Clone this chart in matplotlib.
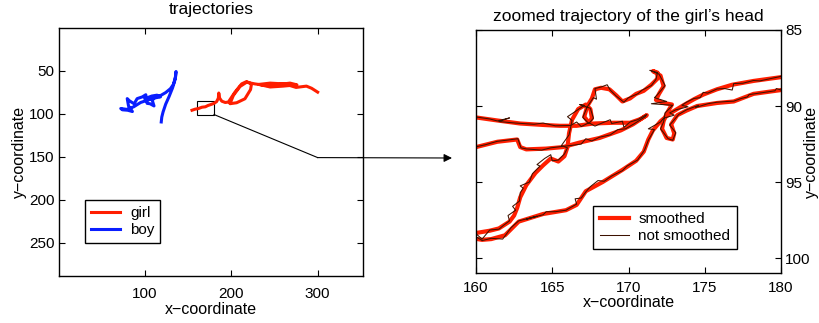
import numpy as np
import matplotlib
matplotlib.use("Agg")
import matplotlib.pyplot as plt
from matplotlib.patches import Rectangle

plt.rcParams["font.family"] = ["Liberation Sans", "DejaVu Sans"]
plt.rcParams["font.size"] = 11

# left panel: whole trajectories (image coordinates)
girl_x = [154.5, 158, 162, 166, 170, 173, 176, 180, 183, 185, 185.5, 186.5, 189, 193, 196.6,
          204.3, 212, 217.7, 223.4, 222.3, 215.8, 206.2, 198.5, 202.4, 210, 217.7, 227.2,
          240.7, 256, 268, 276, 260, 245, 232, 245, 262, 275, 287, 293, 300]
girl_y = [96.0, 94.8, 94.0, 92.5, 92.0, 90.5, 89.5, 88.0, 86.0, 82, 76, 82, 85.5, 87, 86.5,
          74.9, 65.4, 62.7, 65.4, 72, 82.7, 87.3, 88.4, 78.8, 68.5, 63.5, 65.4,
          67.3, 66, 64.5, 66.5, 68, 69, 66, 64.5, 65.5, 69.5, 68, 70.5, 75]
boy_x = [118.9, 119.5, 121, 124, 128, 132, 135, 136, 135.5, 133, 129.5, 124, 118, 112, 108.5,
         110.5, 106, 102.5, 101, 97, 91, 87.5, 82, 79.5, 81, 85.5, 80, 74, 72, 79, 87, 95,
         104, 110, 118, 114, 108, 100]
boy_y = [109.6, 104, 98, 89, 80, 70, 60, 51, 57, 66, 71, 75.5, 79, 80.5, 84.5,
         91, 88.5, 88, 78, 80.5, 82.5, 88.5, 85, 82.5, 91, 97.5, 96, 95.5, 94, 95, 92, 87,
         84, 82, 80.5, 78.5, 79.5, 82.5]

# right panel: girl's head, two passes through the zoom window
smooth1_x = [159.0, 160.0, 161.4, 162.9, 164.5, 165.5, 166.6, 167.7, 169.0, 170.1, 170.8, 171.2,
             170.3, 169.5, 168.1, 166.8, 165.7, 164.6, 163.3, 162.9, 162.7, 161.4, 160.0, 159.0]
smooth1_y = [90.70, 90.75, 90.95, 91.15, 91.25, 91.30, 91.30, 91.15, 91.10, 91.10, 90.85, 90.60,
             91.20, 91.60, 92.10, 92.40, 92.70, 92.80, 92.85, 92.70, 92.20, 92.35, 92.70, 93.00]
smooth2_x = [181.0, 180.0, 178.2, 176.8, 175.8, 174.9, 174.3, 173.6, 172.7, 172.1, 171.6, 171.3,
             171.0, 170.5, 169.6, 168.3, 167.2, 166.6, 165.9, 164.4, 162.8, 161.9, 161.0, 160.4,
             159.5, 160.0, 160.9, 161.5, 162.2, 162.5, 162.7, 162.9, 163.3, 163.9, 164.4, 164.9,
             165.4, 165.8, 166.0, 166.1, 166.3, 166.7, 167.2, 167.5, 167.6, 167.4, 167.1, 167.3,
             167.6, 167.8, 168.2, 168.75, 169.2, 169.6, 170.1, 170.5, 171.0, 171.5, 171.9, 171.9,
             171.6, 172.1, 172.3, 172.0, 171.8, 172.3, 172.85, 172.5, 172.3, 172.2, 172.5, 172.9,
             173.0, 172.8, 173.2, 173.8, 174.5, 175.8, 176.9, 178.2, 180.0, 181.0]
smooth2_y = [87.95, 88.10, 88.35, 88.60, 88.90, 89.25, 89.55, 89.95, 90.50, 91.00, 91.60, 92.20,
             93.00, 93.60, 94.20, 95.00, 95.60, 96.50, 96.85, 97.10, 97.60, 98.50, 98.75, 98.80,
             98.65, 98.35, 98.20, 98.05, 97.60, 97.20, 96.70, 96.00, 95.20, 94.40, 93.90, 93.45,
             93.65, 93.30, 92.70, 91.80, 90.90, 90.20, 89.90, 90.20, 90.80, 91.10, 90.70, 90.00,
             89.50, 88.90, 88.80, 88.90, 89.30, 89.70, 89.50, 89.20, 89.00, 88.60, 88.20, 87.80,
             87.70, 88.00, 88.70, 89.20, 89.60, 89.80, 89.90, 90.50, 91.00, 91.50, 92.10, 92.20,
             91.80, 91.20, 90.60, 90.30, 90.00, 89.80, 89.70, 89.20, 88.95, 88.85]

raw1_x = [159.0, 160.0, 160.9, 161.4, 162.2, 161.5, 162.6, 163.8, 164.4, 165.2, 166.2, 166.6,
          166.9, 167.4, 167.8, 168.3, 168.8, 168.9, 169.6, 169.7, 170.1, 170.6, 171.2, 171.1,
          170.4, 169.8, 169.3, 168.8, 168.1, 167.6, 167.2, 166.9, 166.2, 165.7, 164.9, 164.3,
          163.3, 162.95, 162.75, 162.0, 161.4, 160.6, 160.0, 159.0]
raw1_y = [90.68, 90.72, 90.85, 90.98, 90.78, 91.02, 91.12, 91.20, 91.12, 91.30, 91.28, 91.05,
          91.35, 91.10, 91.32, 91.10, 90.90, 91.15, 91.00, 91.40, 91.05, 90.90, 90.55, 90.70,
          91.15, 91.50, 91.55, 91.90, 92.05, 92.30, 92.15, 92.50, 92.60, 92.65, 92.75, 92.90,
          92.82, 92.75, 92.15, 92.25, 92.32, 92.55, 92.68, 93.00]
raw2_x = [181.0, 180.0, 179.3, 178.6, 178.2, 177.5, 176.9, 176.8, 176.3, 175.8, 175.2, 174.9,
          174.7, 174.3, 173.8, 173.5, 173.9, 173.1, 172.7, 173.0, 172.3, 172.1, 171.3, 171.7,
          171.3, 171.05, 170.6, 169.9, 169.6, 168.9, 168.4, 168.0, 167.5, 167.2, 166.9, 166.5,
          166.6, 165.9, 165.2, 164.6, 164.4, 163.6, 163.3, 164.0, 162.8, 162.3, 161.9, 161.75,
          161.0, 160.4, 160.1, 159.5,
          160.0, 160.4, 160.9, 161.5, 161.8, 162.2, 162.1, 162.6, 162.4, 162.85, 162.9, 163.1,
          162.9, 163.5, 163.7, 164.2, 164.0, 164.5, 164.9, 165.0, 165.4, 165.8, 166.0, 165.6,
          166.1, 166.3, 166.0, 166.6, 167.1, 166.8, 167.5, 167.7, 167.4, 167.0, 167.3, 167.7,
          167.9, 167.8, 168.2, 168.6, 168.8, 169.2, 169.7, 170.0, 170.6, 170.9, 171.5, 171.8,
          171.9, 171.4, 172.0, 172.4, 171.9, 171.7, 172.5, 171.5, 172.9, 172.4, 172.3, 172.1,
          172.6, 172.9, 173.1, 172.7, 173.3, 173.8, 174.6, 174.4, 175.2, 175.8, 176.5, 176.9,
          177.4, 177.8, 177.9, 178.6, 179.6, 179.7, 180.0, 181.0]
raw2_y = [87.93, 88.05, 88.20, 88.35, 88.32, 88.50, 88.52, 88.95, 88.85, 88.88, 89.15, 89.10,
          89.45, 89.50, 89.75, 89.95, 90.05, 90.25, 90.45, 90.60, 90.80, 91.05, 91.50, 91.55,
          92.25, 92.90, 93.55, 93.95, 94.25, 94.60, 94.95, 94.90, 95.30, 95.65, 96.05, 96.10,
          96.45, 96.85, 96.95, 96.95, 97.15, 97.35, 97.45, 97.25, 97.55, 98.00, 98.55, 98.75,
          98.70, 98.85, 98.65, 98.60,
          98.40, 98.75, 98.15, 98.10, 97.85, 97.55, 97.20, 96.85, 96.60, 96.25, 95.70, 95.40,
          95.25, 95.00, 94.45, 93.95, 93.85, 93.45, 93.20, 93.60, 93.55, 93.15, 92.75, 92.60,
          91.90, 90.95, 90.70, 90.30, 89.95, 89.90, 90.15, 90.80, 91.15, 90.75, 90.05, 89.45,
          89.55, 88.85, 88.75, 88.60, 88.95, 89.35, 89.75, 89.45, 89.20, 88.95, 88.65, 88.25,
          87.80, 87.65, 87.90, 88.65, 89.25, 89.45, 89.70, 89.85, 89.95, 90.45, 91.05, 91.50,
          92.15, 92.25, 91.75, 91.25, 90.55, 90.25, 89.95, 90.10, 89.85, 89.75, 89.70, 89.68,
          89.50, 89.40, 89.25, 89.15, 89.00, 88.85, 88.95, 88.85]

zoom_xlim = (160, 180)
zoom_ylim = (85, 101)
link_point = (300, 151)

red = "#ff1e00"
blue = "#0a1eff"
brown = "#3d1200"

fig = plt.figure(figsize=(8.19, 3.23), dpi=100)
ax1 = fig.add_axes([59 / 819, 47 / 323, 304 / 819, 248 / 323])
ax2 = fig.add_axes([476 / 819, 49.7 / 323, 305 / 819, 243.3 / 323])

ax1.plot(girl_x, girl_y, color=red, lw=2.2, label="girl")
ax1.plot(boy_x, boy_y, color=blue, lw=2.2, label="boy")
ax1.add_patch(Rectangle((zoom_xlim[0], zoom_ylim[0]), zoom_xlim[1] - zoom_xlim[0],
                        zoom_ylim[1] - zoom_ylim[0], fill=False, ec="k", lw=0.8))
ax1.plot([zoom_xlim[1], link_point[0]], [zoom_ylim[1], link_point[1]], color="k", lw=0.8)
ax1.annotate("", xy=(452 / 819, 1 - 158 / 323), xycoords="figure fraction",
             xytext=link_point, textcoords="data", annotation_clip=False,
             arrowprops=dict(arrowstyle="-|>", color="k", lw=0.8, shrinkA=0, shrinkB=0,
                             mutation_scale=12))
ax1.set_xlim(0.5, 352.5)
ax1.set_ylim(288.5, 0.5)
ax1.set_xticks([100, 200, 300])
ax1.set_yticks([50, 100, 150, 200, 250])
ax1.set_title("trajectories", fontsize=12.5, pad=10)
ax1.set_xlabel("x\u2212coordinate", fontsize=11.5, labelpad=1)
ax1.set_ylabel("y\u2212coordinate", fontsize=11.5, labelpad=2)
ax1.legend(loc="lower left", bbox_to_anchor=(0.085, 0.133), borderaxespad=0, fancybox=False,
           edgecolor="k", framealpha=1, handlelength=1.9, borderpad=0.4, labelspacing=0.2,
           handletextpad=0.65)

ax2.plot(smooth1_x, smooth1_y, color=red, lw=3.0, label="smoothed")
ax2.plot(smooth2_x, smooth2_y, color=red, lw=3.0)
ax2.plot(raw1_x, raw1_y, color=brown, lw=0.75, label="not smoothed")
ax2.plot(raw2_x, raw2_y, color=brown, lw=0.75)
ax2.set_xlim(*zoom_xlim)
ax2.set_ylim(zoom_ylim[1], zoom_ylim[0])
ax2.set_xticks([160, 165, 170, 175, 180])
ax2.set_yticks([85, 90, 95, 100])
ax2.yaxis.tick_right()
ax2.yaxis.set_label_position("right")
ax2.set_title("zoomed trajectory of the girl\u2019s head", fontsize=12.5, pad=6.5)
ax2.set_xlabel("x\u2212coordinate", fontsize=11.5, labelpad=0)
ax2.set_ylabel("y\u2212coordinate", fontsize=11.5)
ax2.yaxis.set_label_coords(1.074, 0.5)
ax2.legend(loc="lower left", bbox_to_anchor=(0.385, 0.099), borderaxespad=0, fancybox=False,
           edgecolor="k", framealpha=1, handlelength=1.9, borderpad=0.4, labelspacing=0.2,
           handletextpad=0.65)

for ax in (ax1, ax2):
    ax.tick_params(direction="in", length=4, width=0.8, top=True, bottom=True,
                   left=True, right=True, labelsize=11, pad=3)
    for sp in ax.spines.values():
        sp.set_linewidth(1.0)
ax1.tick_params(axis="x", pad=8)
ax2.tick_params(axis="x", pad=5.5)

fig.savefig("out.png", dpi=100)
